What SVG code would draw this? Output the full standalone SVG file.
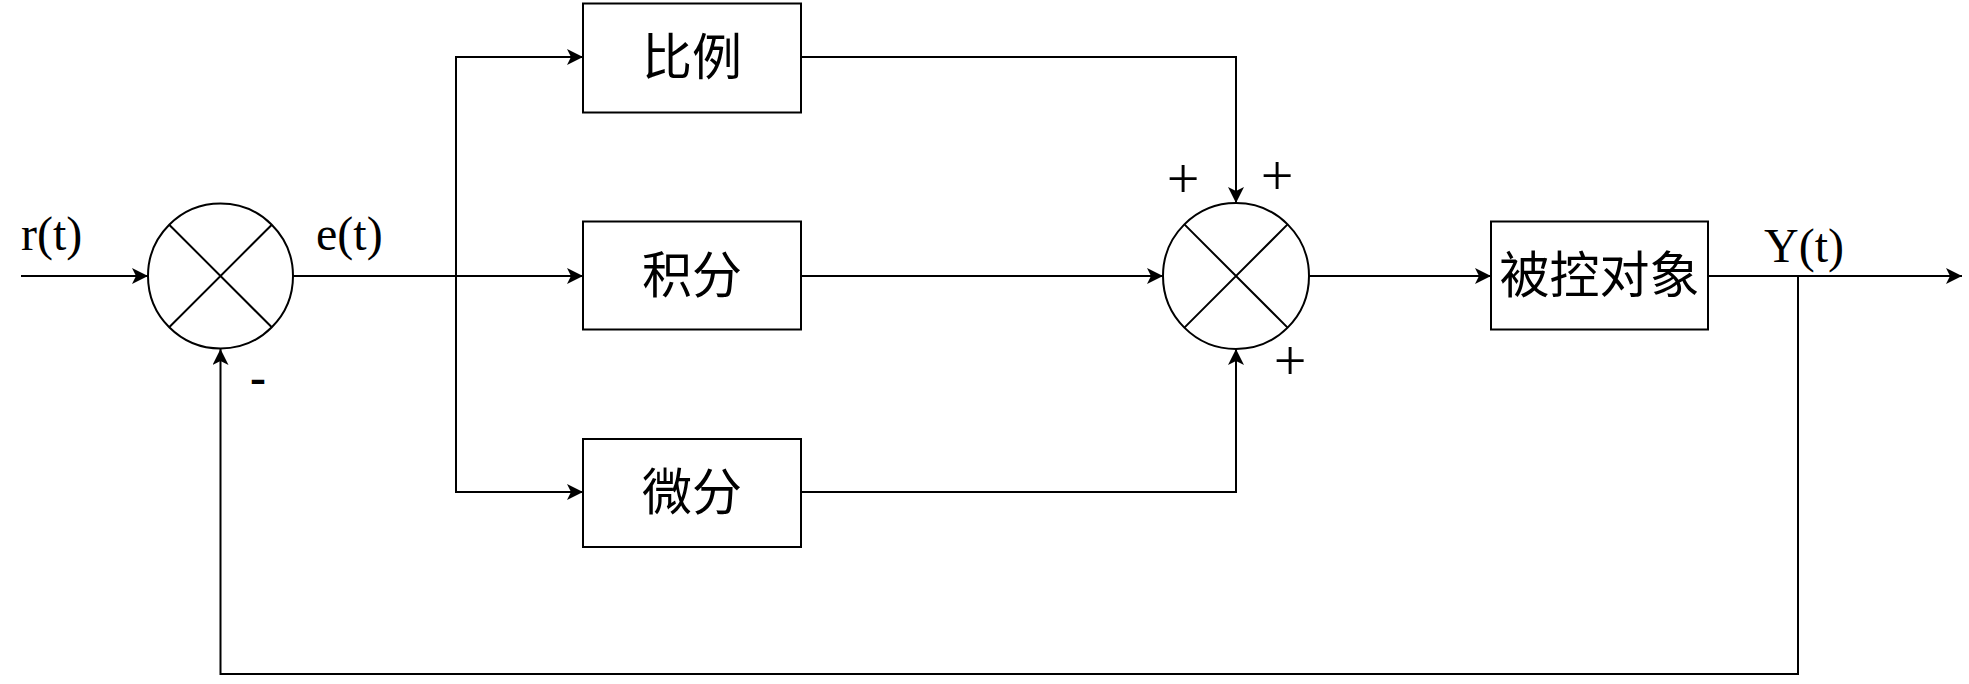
<svg xmlns="http://www.w3.org/2000/svg" width="1969" height="684" viewBox="0 0 1969 684">
<style>
.box{fill:#fff;stroke:#000;stroke-width:2}
.sum{fill:#fff;stroke:#000;stroke-width:2}
.cx{stroke:#000;stroke-width:2;fill:none}
.ln{fill:none;stroke:#000;stroke-width:2}
.lbl{font-family:"Liberation Serif","Times New Roman",serif;font-size:48px;fill:#000}
.pl{font-family:"Liberation Serif","Times New Roman",serif;font-size:58px;font-weight:300;fill:#000;text-anchor:middle}
.cjk{font-family:"Liberation Serif","Noto Sans CJK SC",serif;font-size:50px;fill:#000;text-anchor:middle;dominant-baseline:central}
</style>
<defs>
<marker id="arr" markerUnits="userSpaceOnUse" markerWidth="16" markerHeight="16" refX="16" refY="8" orient="auto">
<path d="M0,0 L16,8 L0,16 L4,8 Z" fill="#000"/>
</marker>
</defs>
<rect width="1969" height="684" fill="#fff"/>
<g id="connectors">
<path class="ln" d="M21,276 H148" marker-end="url(#arr)"/>
<path class="ln" d="M293,276 H583" marker-end="url(#arr)"/>
<path class="ln" d="M456,276 V57 H583" marker-end="url(#arr)"/>
<path class="ln" d="M456,276 V492 H583" marker-end="url(#arr)"/>
<path class="ln" d="M801,57 H1236 V203" marker-end="url(#arr)"/>
<path class="ln" d="M801,276 H1163" marker-end="url(#arr)"/>
<path class="ln" d="M801,492 H1236 V349" marker-end="url(#arr)"/>
<path class="ln" d="M1309,276 H1491" marker-end="url(#arr)"/>
<path class="ln" d="M1708,276 H1962" marker-end="url(#arr)"/>
<path class="ln" d="M1798,276 V674 H220.5 V349" marker-end="url(#arr)"/>
</g>
<g id="sum1">
<circle class="sum" cx="220.5" cy="276" r="72.5"/>
<path class="cx" d="M169.2,224.7 L271.8,327.3 M271.8,224.7 L169.2,327.3"/>
</g>
<g id="sum2">
<circle class="sum" cx="1236" cy="276" r="73"/>
<path class="cx" d="M1184.4,224.4 L1287.6,327.6 M1287.6,224.4 L1184.4,327.6"/>
</g>
<g id="p">
<rect class="box" x="583" y="3.5" width="218" height="109"/>
<text class="cjk" x="692" y="58">比例</text>
</g>
<g id="i">
<rect class="box" x="583" y="221.5" width="218" height="108"/>
<text class="cjk" x="692" y="275.5">积分</text>
</g>
<g id="d">
<rect class="box" x="583" y="439" width="218" height="108"/>
<text class="cjk" x="692" y="493">微分</text>
</g>
<g id="plant">
<rect class="box" x="1491" y="221.5" width="217" height="108"/>
<text class="cjk" x="1599.5" y="275.5">被控对象</text>
</g>
<g id="labels">
<text class="lbl" x="21" y="250">r(t)</text>
<text class="lbl" x="316" y="250">e(t)</text>
<text class="lbl" x="1764" y="262">Y(t)</text>
<text class="pl" x="1183" y="198">+</text>
<text class="pl" x="1277" y="195">+</text>
<text class="pl" x="1290" y="380">+</text>
<text class="lbl" x="250" y="393" style="font-weight:bold">-</text>
</g>
</svg>
